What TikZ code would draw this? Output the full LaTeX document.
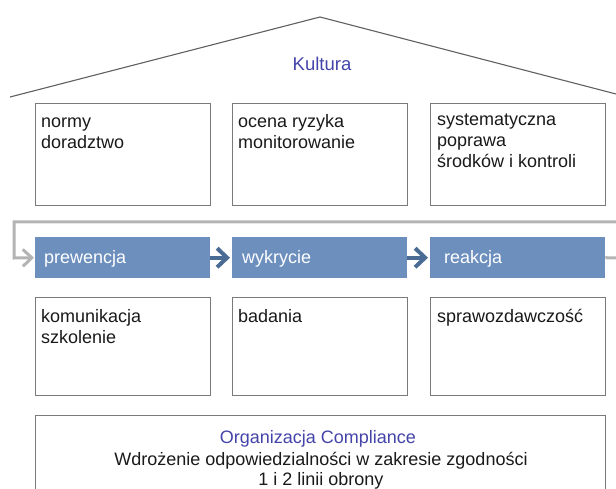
\documentclass[tikz,border=0pt]{standalone}
\usepackage{fontspec}
\setmainfont{Liberation Sans}
\usetikzlibrary{arrows.meta}
\definecolor{boxline}{HTML}{7A7A7A}
\definecolor{roofline}{HTML}{606060}
\definecolor{titleblue}{HTML}{4444AA}
\definecolor{stepfill}{HTML}{6C8FBE}
\definecolor{steparrow}{HTML}{4A6C94}
\definecolor{flowgray}{HTML}{B4B4B4}
\definecolor{bodytext}{HTML}{1A1A1A}
\begin{document}
\begin{tikzpicture}[x=1pt,y=-1pt,
  panel/.style={draw=boxline,line width=1pt,fill=white,minimum width=175pt,minimum height=102pt,inner sep=0pt,anchor=north west},
  panelbig/.style={draw=boxline,line width=1pt,fill=white,minimum width=570pt,minimum height=90pt,inner sep=0pt,anchor=north west},
  panelbottom/.style={draw=boxline,line width=1pt,fill=white,minimum width=175pt,minimum height=98pt,inner sep=0pt,anchor=north west},
  stepbox/.style={fill=stepfill,minimum width=175pt,minimum height=41pt,inner sep=0pt,anchor=north west},
  steptext/.style={text=white,font=\fontsize{18}{21}\selectfont,anchor=base west,inner sep=0pt},
  paneltext/.style={anchor=north west,align=left,inner sep=0pt,text=bodytext,font=\fontsize{18}{21}\selectfont},
  steparr/.style={draw=steparrow,line width=4pt,shorten >=2pt,-{Straight Barb[length=10pt,width=19pt,line width=4pt]}},
  flowarr/.style={draw=flowgray,line width=3pt},
]
\useasboundingbox (0,0) rectangle (616,489);
% roof
\coordinate (roofL) at (10,97);
\coordinate (roofT) at (320,17);
\coordinate (roofR) at (616,94);
\draw[roofline,line width=1.1pt] (roofL) -- (roofT) -- (roofR);
\node[text=titleblue,font=\fontsize{18.5}{21}\selectfont,anchor=base,inner sep=0pt] (kultura) at (322,71) {Kultura};
% top panels
\node[panel] (t1) at (35,103) {};
\node[panel] (t2) at (232,103) {};
\node[panel] (t3) at (430,103) {};
\node[paneltext] (t1txt) at (41,112.3) {\strut normy\\doradztwo};
\node[paneltext] (t2txt) at (238,112.3) {\strut ocena ryzyka\\monitorowanie};
\node[paneltext] (t3txt) at (437,110.3) {\strut systematyczna\\poprawa\\środków i kontroli};
% flow
\node[stepbox] (s1) at (35,237) {};
\node[stepbox] (s2) at (232,237) {};
\node[stepbox] (s3) at (430,237) {};
\node[steptext] (s1txt) at (44,264) {prewencja};
\node[steptext] (s2txt) at (242,264) {wykrycie};
\node[steptext] (s3txt) at (444,264) {reakcja};
\coordinate (fin) at (616,222);
\coordinate (fc1) at (14,222);
\coordinate (fc2) at (14,258);
\coordinate (fout) at (616,258);
\draw[flowarr,shorten >=1pt,-{Straight Barb[length=9pt,width=17pt,line width=3pt]}] (fin) -- (fc1) -- (fc2) -- (s1.west);
\draw[flowarr] (s3.east) -- (fout);
\draw[steparr] (s1.east) -- (s2.west);
\draw[steparr] (s2.east) -- (s3.west);
% bottom panels
\node[panelbottom] (b1) at (35,297) {};
\node[panelbottom] (b2) at (232,297) {};
\node[panelbottom] (b3) at (430,297) {};
\node[paneltext] (b1txt) at (41,307.3) {\strut komunikacja\\szkolenie};
\node[paneltext] (b2txt) at (238,307.3) {\strut badania};
\node[paneltext] (b3txt) at (437,307.3) {\strut sprawozdawczość};
% base
\node[panelbig] (base) at (35,415) {};
\node[text=titleblue,font=\fontsize{18}{21}\selectfont,inner sep=0pt,anchor=base] (org) at (318,443) {Organizacja Compliance};
\node[text=bodytext,font=\fontsize{18}{21}\selectfont,inner sep=0pt,anchor=base] (wdr) at (321,465) {Wdrożenie odpowiedzialności w zakresie zgodności};
\node[text=bodytext,font=\fontsize{18}{21}\selectfont,inner sep=0pt,anchor=base] (lin) at (321,485) {1 i 2 linii obrony};
\end{tikzpicture}
\end{document}
